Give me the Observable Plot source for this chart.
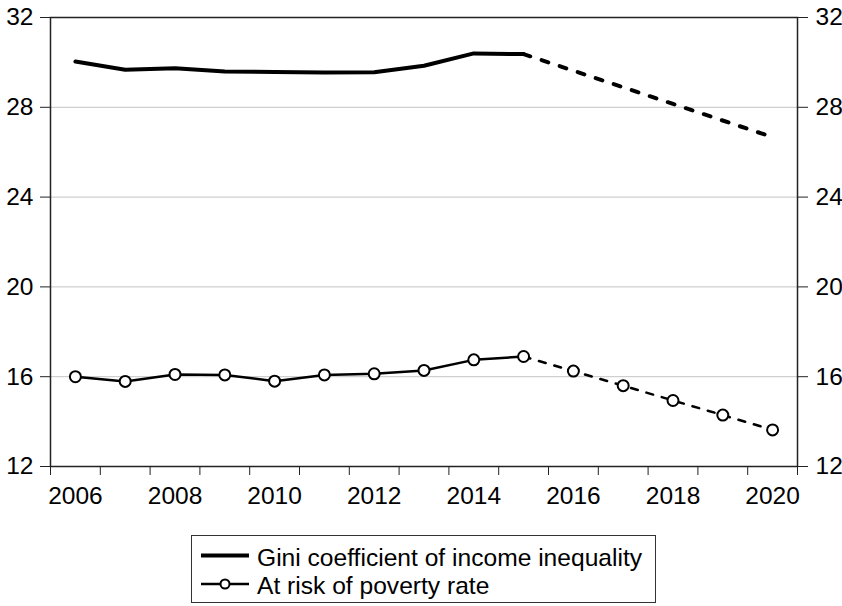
<!DOCTYPE html>
<html><head><meta charset="utf-8">
<script src="https://cdn.jsdelivr.net/npm/d3@7"></script>
<script src="https://cdn.jsdelivr.net/npm/@observablehq/plot@0.6"></script>
<style>
body{margin:0;background:#fff;font-family:"Liberation Sans",Arial,sans-serif;}
#wrap{position:relative;width:842px;height:606px;background:#fff;}
#legend{position:absolute;left:191px;top:535px;width:465px;height:68px;box-sizing:border-box;border:1.5px solid #333;padding:8px 0 0 9px;font-size:24.6px;color:#000;}
.row{display:flex;align-items:flex-start;height:28px;line-height:28px;white-space:nowrap;}
.row svg{flex:none;margin-right:8px;}
</style></head><body><div id="wrap"><div id="legend"></div></div>
<script>
// ---- data ----
const years = [2006, 2007, 2008, 2009, 2010, 2011, 2012, 2013, 2014, 2015, 2016, 2017, 2018, 2019, 2020];
const giniYears = [2006, 2007, 2008, 2009, 2010, 2011, 2012, 2013, 2014, 2015];
const giniValues = [30.04, 29.67, 29.74, 29.60, 29.57, 29.55, 29.56, 29.85, 30.40, 30.37];
const giniProjYears = [2015, 2020];
const giniProjValues = [30.37, 26.67];
const povertyValues = [16.00, 15.79, 16.10, 16.08, 15.80, 16.08, 16.13, 16.28, 16.75, 16.90, 16.25, 15.60, 14.94, 14.29, 13.63];
const lastActualYear = 2015;
const yTicks = [12, 16, 20, 24, 28, 32];
const gridTicks = [16, 20, 24, 28];
const xLabelYears = [2006, 2008, 2010, 2012, 2014, 2016, 2018, 2020];
const seriesNames = ["Gini coefficient of income inequality", "At risk of poverty rate"];

// ---- tables ----
const giniSolid = giniYears.map((y, i) => ({year: y, value: giniValues[i]}));
const giniDashed = giniProjYears.map((y, i) => ({year: y, value: giniProjValues[i]}));
const poverty = years.map((y, i) => ({year: y, value: povertyValues[i]}));
const povSolid = poverty.filter(d => d.year <= lastActualYear);
const povDashed = poverty.filter(d => d.year >= lastActualYear);
const xBoundaries = [...years.map(y => y - 0.5), years[years.length - 1] + 0.5];

const chart = Plot.plot({
  width: 842, height: 520,
  marginLeft: 50, marginRight: 45, marginTop: 17, marginBottom: 54,
  style: {fontFamily: "Liberation Sans, Arial, sans-serif", fontSize: "24.5px", background: "white", color: "black"},
  x: {domain: [xBoundaries[0], xBoundaries[xBoundaries.length - 1]], axis: null},
  y: {domain: [12, 32], axis: null},
  marks: [
    Plot.gridY(gridTicks, {stroke: "#c4c4c4", strokeOpacity: 1, strokeWidth: 1}),
    Plot.axisX(xBoundaries, {tickSize: 9, tickFormat: () => "", stroke: "#222", label: null}),
    Plot.axisX(xLabelYears, {tickSize: 0, tickPadding: 20, tickFormat: d => String(d), fontSize: 24.5, label: null}),
    Plot.axisY(yTicks, {anchor: "left", tickSize: 10, tickPadding: 7, fontSize: 24.5, stroke: "#222", label: null}),
    Plot.axisY(yTicks, {anchor: "right", tickSize: 10, tickPadding: 8, fontSize: 24.5, stroke: "#222", label: null}),
    Plot.frame({stroke: "#222", strokeWidth: 1.5}),
    Plot.line(giniSolid, {x: "year", y: "value", stroke: "black", strokeWidth: 4}),
    Plot.line(giniDashed, {x: "year", y: "value", stroke: "black", strokeWidth: 4, strokeDasharray: "7,12"}),
    Plot.line(povSolid, {x: "year", y: "value", stroke: "black", strokeWidth: 2.5}),
    Plot.line(povDashed, {x: "year", y: "value", stroke: "black", strokeWidth: 2.5, strokeDasharray: "7,9"}),
    Plot.dot(poverty, {x: "year", y: "value", r: 5.5, fill: "white", stroke: "black", strokeWidth: 2})
  ]
});
document.getElementById("wrap").prepend(chart);

const legend = document.getElementById("legend");
const samples = [
  '<svg width="48" height="28"><line x1="0" x2="48" y1="11.5" y2="11.5" stroke="black" stroke-width="4"/></svg>',
  '<svg width="48" height="28"><line x1="0" x2="48" y1="12" y2="12" stroke="black" stroke-width="2.5"/><circle cx="24" cy="12" r="4.5" fill="white" stroke="black" stroke-width="2"/></svg>'
];
seriesNames.forEach((name, i) => {
  const row = document.createElement("div");
  row.className = "row";
  row.innerHTML = samples[i] + '<span>' + name + '</span>';
  legend.appendChild(row);
});
</script>
</body></html>
